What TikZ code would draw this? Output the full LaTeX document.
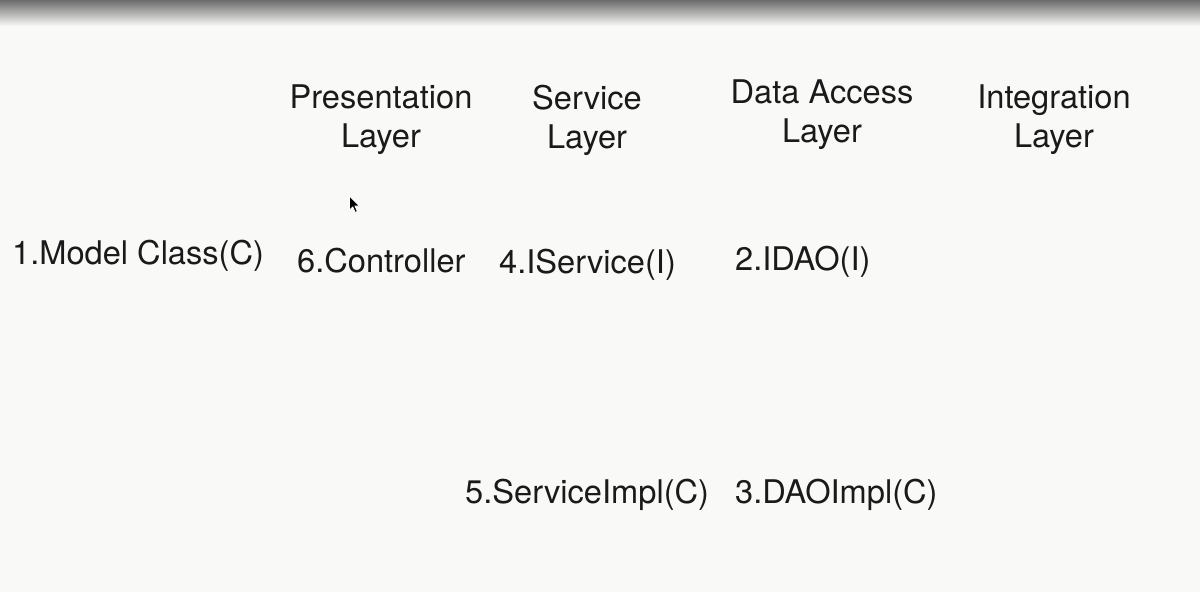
\documentclass[tikz,border=0pt]{standalone}
\usepackage{fontspec}
\setmainfont{TeX Gyre Heros}
\definecolor{bg}{HTML}{F9F9F7}
\definecolor{ink}{HTML}{1A1A1A}
\begin{document}
\begin{tikzpicture}[x=1pt,y=-1pt,
  lbl/.style={font=\fontsize{32.6}{39}\selectfont, text=ink, inner sep=0pt, align=center},
  item/.style={font=\fontsize{32.6}{39}\selectfont, text=ink, inner sep=0pt, anchor=west}]
\fill[bg] (0,0) rectangle (1200,592);
\useasboundingbox (0,0) rectangle (1200,592);
\shade[top color=black!58, bottom color=bg] (0,0) rectangle (1200,26);
% layer headings
\node[lbl] (pres) at (381,120) {Presentation\\Layer};
\node[lbl] (serv) at (587,120) {Service\\Layer};
\node[lbl] (dao) at (822,115) {Data Access\\Layer};
\node[lbl] (integ) at (1054,120) {Integration\\Layer};
% items
\node[item] (model) at (12,256) {1.Model Class(C)};
\node[item] (ctrl) at (297,261) {6.Controller};
\node[item] (iserv) at (499,265) {4.IService(I)};
\node[item] (idao) at (735,262) {2.IDAO(I)};
\node[item] (simpl) at (465,495) {5.ServiceImpl(C)};
\node[item] (dimpl) at (735,495) {3.DAOImpl(C)};
% mouse cursor
\filldraw[fill=black, draw=white, line width=0.8pt]
  (349.5,196) -- (349.5,210) -- (352.8,207) -- (355.2,212.5) -- (357.4,211.5) -- (355,206) -- (359.5,206) -- cycle;
\end{tikzpicture}
\end{document}
